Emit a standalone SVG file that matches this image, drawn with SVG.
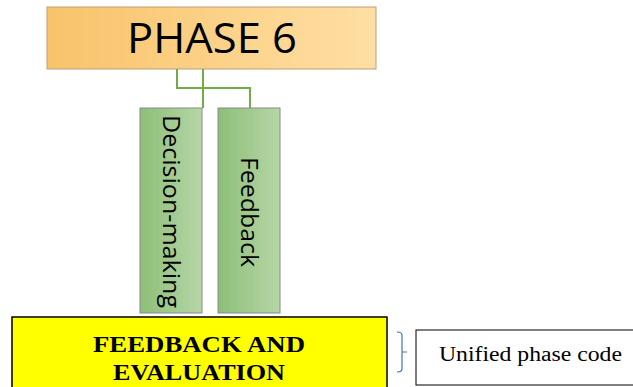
<svg xmlns="http://www.w3.org/2000/svg" width="633" height="387" viewBox="0 0 633 387">
  <defs>
    <linearGradient id="gOrange" x1="0" y1="0" x2="1" y2="0">
      <stop offset="0" stop-color="#F8C36A"/>
      <stop offset="1" stop-color="#FFDFA4"/>
    </linearGradient>
    <linearGradient id="gGreen" x1="0" y1="0" x2="1" y2="0">
      <stop offset="0" stop-color="#8DBF78"/>
      <stop offset="1" stop-color="#B6D6A6"/>
    </linearGradient>
  </defs>
  <style>
    .sans { font-family: "Open Sans", "Liberation Sans", sans-serif; fill: #000; }
    .serif { font-family: "Liberation Serif", "DejaVu Serif", serif; fill: #000; }
    .branch { fill: url(#gGreen); stroke: #8A8A8A; stroke-width: 1; }
    .link { fill: none; stroke: #70AD47; stroke-width: 2; }
  </style>

  <g id="phase6">
    <rect x="47" y="7" width="329" height="62" fill="url(#gOrange)" stroke="#B9A07A" stroke-width="1"/>
    <text class="sans" x="127" y="53" font-size="42" textLength="170" lengthAdjust="spacingAndGlyphs">PHASE 6</text>
  </g>

  <g id="connectors">
    <polyline class="link" points="203,69 203,108"/>
    <polyline class="link" points="177,69 177,88 250,88 250,108"/>
    <path d="M397,332 Q402,332 402,335 L402,369 Q402,372 397,372 M402,352 L407,352" fill="none" stroke="#4472C4" stroke-width="1.2"/>
  </g>

  <g id="decision-making">
    <rect class="branch" x="140" y="108" width="62" height="205"/>
    <text class="sans" font-size="23" transform="translate(163,115) rotate(90)" textLength="193" lengthAdjust="spacingAndGlyphs">Decision-making</text>
  </g>

  <g id="feedback">
    <rect class="branch" x="218" y="108" width="62" height="205"/>
    <text class="sans" font-size="23" transform="translate(241,157) rotate(90)" textLength="110" lengthAdjust="spacingAndGlyphs">Feedback</text>
  </g>

  <g id="feedback-evaluation">
    <rect x="12" y="317" width="375" height="75" fill="#FFFF00" stroke="#000" stroke-width="1.5"/>
    <text class="serif" x="93" y="352" font-size="24" font-weight="bold" textLength="212" lengthAdjust="spacingAndGlyphs">FEEDBACK AND</text>
    <text class="serif" x="113" y="380" font-size="24" font-weight="bold" textLength="172" lengthAdjust="spacingAndGlyphs">EVALUATION</text>
  </g>

  <g id="unified-phase-code">
    <rect x="416" y="330" width="220" height="55" fill="#FFFFFF" stroke="#000" stroke-width="1"/>
    <text class="serif" x="439" y="361" font-size="20" textLength="183" lengthAdjust="spacingAndGlyphs">Unified phase code</text>
  </g>
</svg>
